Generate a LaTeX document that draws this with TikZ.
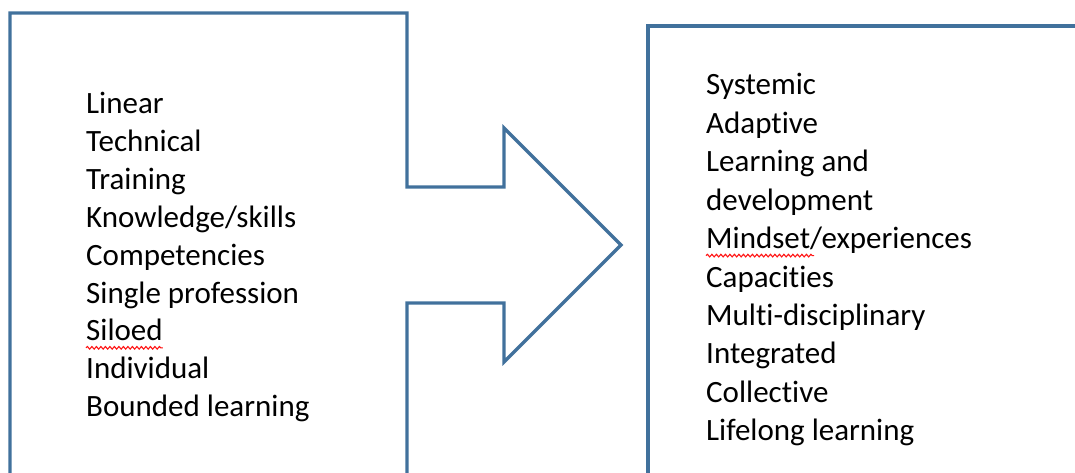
\documentclass[tikz,border=0pt]{standalone}
\usepackage{fontspec}
\setmainfont{Carlito}[Ligatures={NoCommon}]
\usetikzlibrary{positioning,decorations.pathmorphing}
\definecolor{shiftblue}{RGB}{65,113,156}
\definecolor{spellred}{RGB}{255,20,20}
\tikzstyle{outline} = [line width=3.2pt, draw=shiftblue, line join=miter]
\tikzstyle{item} = [anchor=base west, inner sep=0pt, font=\fontsize{31}{36}\selectfont]
\tikzstyle{squiggle} = [draw=spellred, line width=1.1pt, decorate, decoration={snake, amplitude=1.3pt, segment length=4.5pt}]

\begin{document}
\begin{tikzpicture}[x=1pt, y=-1pt]
\useasboundingbox (0,0) rectangle (1075,473);
\clip (0,0) rectangle (1075,473);

% Left block with arrow
\draw[outline] (10,480) -- (10,13) -- (407,13) -- (407,187) -- (504,187) -- (504,128)
  -- (621,245) -- (504,362) -- (504,303) -- (407,303) -- (407,480);

% Right block
\draw[outline] (648,480) -- (648,26) -- (1085,26);

% Left items
\foreach \txt [count=\i] in {Linear, Technical, Training, Knowledge/skills,
    Competencies, Single profession, Siloed, Individual, Bounded learning}
  \node[item] (l\i) at (86,{114+37.8*(\i-1)}) {\txt};

% Right items
\foreach \txt [count=\i] in {Systemic, Adaptive, Learning and, development,
    Mindset/experiences, Capacities, Multi-disciplinary, Integrated,
    Collective, Lifelong learning}
  \node[item] (r\i) at (706,{95+38.4*(\i-1)}) {\txt};

% Spell-check marks
\coordinate (sa) at ([yshift=-7pt]l7.base west);
\coordinate (sb) at ([yshift=-7pt]l7.base east);
\draw[squiggle] (sa) -- (sb);
\coordinate (ma) at ([yshift=-7pt]r5.base west);
\coordinate (mb) at ([xshift=108pt]ma);
\draw[squiggle] (ma) -- (mb);
\end{tikzpicture}
\end{document}
